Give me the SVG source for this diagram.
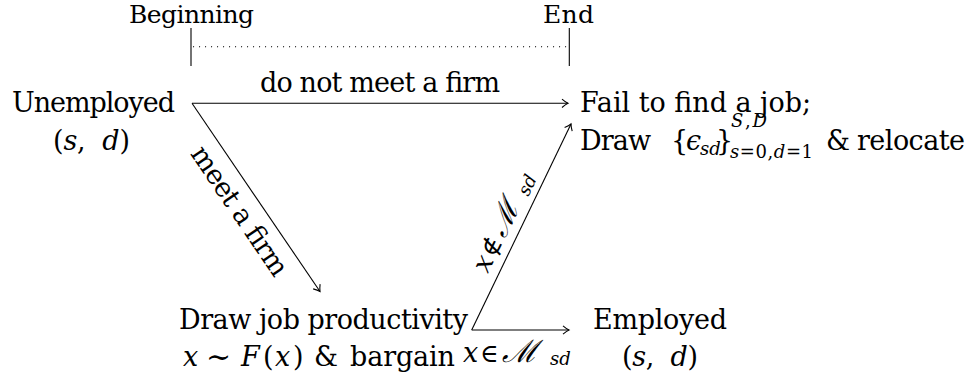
<svg xmlns="http://www.w3.org/2000/svg" width="974" height="392" viewBox="0 0 974 392" font-family="DejaVu Serif, serif" font-size="27">
<defs>
<style>
text { fill: #000; }
.i { font-style: italic; }
.s { font-size: 18px; }
.ln { stroke: #000; stroke-width: 1.1; fill: none; }
.dot { stroke: #000; stroke-width: 1.1; fill: none; stroke-dasharray: 1.1 4.9; }
</style>
<marker id="ah" markerUnits="userSpaceOnUse" markerWidth="12" markerHeight="12" refX="10" refY="6" orient="auto">
<path d="M4 1.8 Q7.6 4.9 10 6 Q7.6 7.1 4 10.2" fill="none" stroke="#000" stroke-width="1.1"/>
</marker>
</defs>

<g id="timeline">
<text x="191.5" y="22.5" text-anchor="middle" font-size="25" textLength="125">Beginning</text>
<text x="568.5" y="22.5" text-anchor="middle" font-size="25" textLength="51">End</text>
<line class="ln" x1="191" y1="28" x2="191" y2="66"/>
<line class="ln" x1="569.3" y1="28" x2="569.3" y2="66"/>
<line class="dot" x1="193" y1="46.7" x2="568" y2="46.7"/>
</g>

<g id="unemployed">
<text x="93.5" y="112" text-anchor="middle" textLength="163">Unemployed</text>
<text x="91.5" y="150" text-anchor="middle" textLength="77">(<tspan class="i">s</tspan>,&#160;&#160;<tspan class="i">d</tspan>)</text>
</g>

<g id="fail">
<text x="580" y="112" textLength="231">Fail to find a job;</text>
<text x="580" y="149.5" textLength="71">Draw</text>
<text x="671" y="149.5">{</text>
<text x="686" y="149.5" class="i">ϵ</text>
<text x="700" y="154.5" class="s i">sd</text>
<text x="716" y="149.5">}</text>
<text x="731" y="127" class="s" textLength="36"><tspan class="i">S</tspan>,<tspan class="i">D</tspan></text>
<text x="730" y="157.5" class="s" textLength="83"><tspan class="i">s</tspan>=0,<tspan class="i">d</tspan>=1</text>
<text x="826" y="149.5">&amp;</text>
<text x="857" y="149.5" textLength="108">relocate</text>
</g>

<g id="drawjob">
<text x="323.5" y="329" text-anchor="middle" textLength="289">Draw job productivity</text>
<text x="183" y="366" class="i">x</text>
<text x="206" y="367" font-size="30">∼</text>
<text x="241" y="366" class="i">F</text>
<text x="263" y="366">(</text>
<text x="275" y="366" class="i">x</text>
<text x="293" y="366">)</text>
<text x="314" y="366">&amp;</text>
<text x="350" y="366" textLength="105">bargain</text>
</g>

<g id="employed">
<text x="660" y="329" text-anchor="middle" textLength="134">Employed</text>
<text x="660" y="366" text-anchor="middle" textLength="76">(<tspan class="i">s</tspan>,&#160;&#160;<tspan class="i">d</tspan>)</text>
</g>

<g id="connectors">
<line class="ln" x1="192" y1="103.3" x2="568" y2="103.3" marker-end="url(#ah)"/>
<line class="ln" x1="192" y1="103.3" x2="320" y2="291.5" marker-end="url(#ah)"/>
<line class="ln" x1="471.7" y1="330" x2="569" y2="330" marker-end="url(#ah)"/>
<line class="ln" x1="471.7" y1="330" x2="571" y2="124" marker-end="url(#ah)"/>
<text x="380" y="92" text-anchor="middle" textLength="240">do not meet a firm</text>
<g id="lbl-meet" transform="translate(232.3,216) rotate(55.78)">
<text x="0" y="0" text-anchor="middle" textLength="151">meet a firm</text>
</g>
<g id="lbl-notin" transform="translate(512.4,222.7) rotate(-64.26)">
<text x="-57" y="0" class="i">x</text>
<text x="-40" y="0" font-size="25">∉</text>
<text x="-18" y="0" font-style="italic" font-size="31">ℳ</text>
<text x="30" y="3" class="s i">sd</text>
</g>
<g id="lbl-in" transform="translate(520,362)">
<text x="-57" y="0" class="i">x</text>
<text x="-40" y="0" font-size="25">∈</text>
<text x="-18" y="0" font-style="italic" font-size="31">ℳ</text>
<text x="30" y="3" class="s i">sd</text>
</g>
</g>
</svg>
